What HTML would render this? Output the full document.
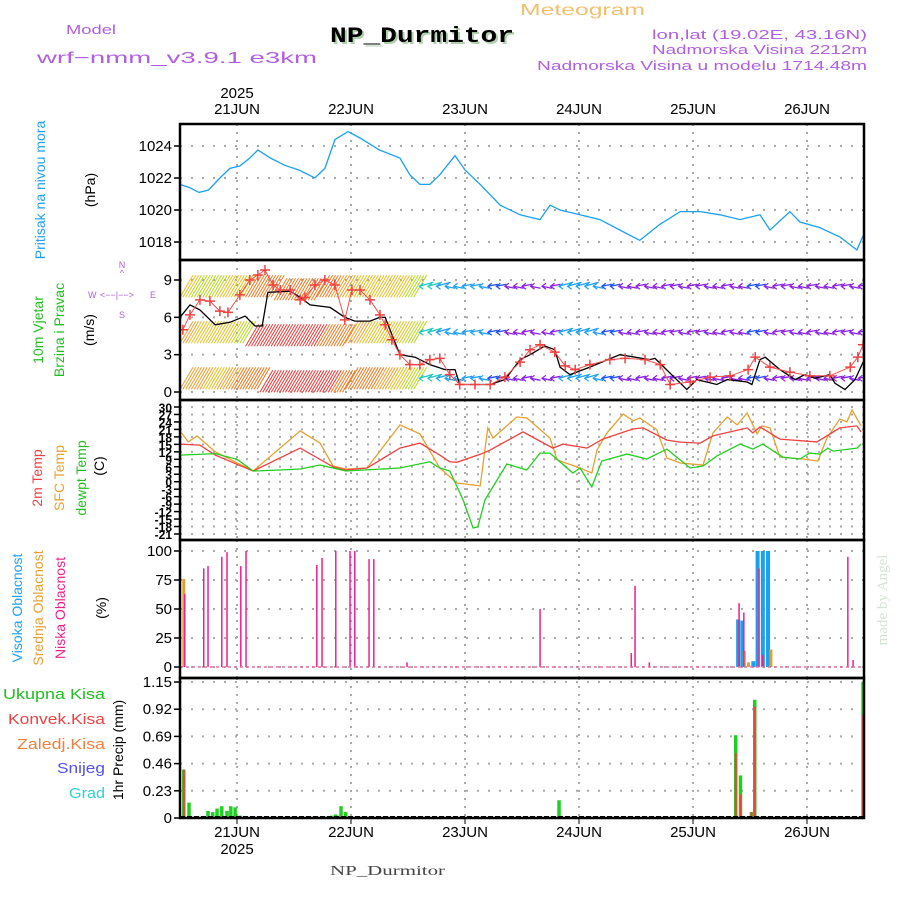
<!DOCTYPE html>
<html><head><meta charset="utf-8">
<style>
html,body{margin:0;padding:0;background:#fff;}
svg{display:block;font-family:"Liberation Sans",sans-serif;}
</style></head>
<body>
<svg id="c" width="900" height="900" viewBox="0 0 900 900">
<g id="hdr">
<text x="520" y="15" font-size="16" fill="#f0c070" textLength="125" lengthAdjust="spacingAndGlyphs">Meteogram</text>
<text x="66" y="34" font-size="13" fill="#b060e0" textLength="50" lengthAdjust="spacingAndGlyphs">Model</text>
<text x="37" y="63" font-size="16" fill="#b060e0" textLength="280" lengthAdjust="spacingAndGlyphs">wrf−nmm_v3.9.1 e3km</text>
<text x="332" y="44" font-size="22" font-weight="bold" fill="#b0d0b0" textLength="184" lengthAdjust="spacingAndGlyphs" font-family="Liberation Mono,monospace">NP_Durmitor</text>
<text x="330" y="42" font-size="22" font-weight="bold" fill="#000" textLength="184" lengthAdjust="spacingAndGlyphs" font-family="Liberation Mono,monospace">NP_Durmitor</text>
<text x="652" y="39" font-size="13" fill="#b060e0" textLength="215" lengthAdjust="spacingAndGlyphs">lon,lat (19.02E, 43.16N)</text>
<text x="652" y="54" font-size="13" fill="#b060e0" textLength="215" lengthAdjust="spacingAndGlyphs">Nadmorska Visina 2212m</text>
<text x="537" y="70" font-size="13" fill="#b060e0" textLength="330" lengthAdjust="spacingAndGlyphs">Nadmorska Visina u modelu 1714.48m</text>
</g>
<g id="grid"></g>
<g id="marks"></g>
<g id="frames"></g>
<g id="labels" font-size="14">
<text transform="translate(45,190) rotate(-90)" fill="#20a0f0" text-anchor="middle">Pritisak na nivou mora</text>
<text transform="translate(95,190) rotate(-90)" fill="#000" text-anchor="middle">(hPa)</text>
<text transform="translate(43,330) rotate(-90)" fill="#20c020" text-anchor="middle">10m Vjetar</text>
<text transform="translate(64,330) rotate(-90)" fill="#20c020" text-anchor="middle">Brzina i Pravac</text>
<text transform="translate(94,330) rotate(-90)" fill="#000" text-anchor="middle">(m/s)</text>
<g fill="#b060e0" font-size="9">
<text x="122" y="268" text-anchor="middle">N</text><text x="122" y="276" text-anchor="middle">^</text>
<text x="88" y="298">W</text><text x="100" y="298">&lt;−−|−−&gt;</text><text x="150" y="298">E</text>
<text x="122" y="318" text-anchor="middle">S</text>
</g>
<text transform="translate(42,478) rotate(-90)" fill="#f04040" text-anchor="middle">2m Temp</text>
<text transform="translate(64,478) rotate(-90)" fill="#e8a030" text-anchor="middle">SFC Temp</text>
<text transform="translate(86,478) rotate(-90)" fill="#20c020" text-anchor="middle">dewpt Temp</text>
<text transform="translate(104,466) rotate(-90)" fill="#000" text-anchor="middle">(C)</text>
<text transform="translate(22,608) rotate(-90)" fill="#20a0f0" text-anchor="middle">Visoka Oblacnost</text>
<text transform="translate(43,608) rotate(-90)" fill="#e8a030" text-anchor="middle">Srednja Oblacnost</text>
<text transform="translate(65,608) rotate(-90)" fill="#f0208a" text-anchor="middle">Niska Oblacnost</text>
<text transform="translate(106,608) rotate(-90)" fill="#000" text-anchor="middle">(%)</text>
<g font-size="15">
<text x="3" y="699" fill="#20c020" textLength="102" lengthAdjust="spacingAndGlyphs">Ukupna Kisa</text>
<text x="8" y="724" fill="#f04040" textLength="97" lengthAdjust="spacingAndGlyphs">Konvek.Kisa</text>
<text x="17" y="749" fill="#f08040" textLength="88" lengthAdjust="spacingAndGlyphs">Zaledj.Kisa</text>
<text x="57" y="773" fill="#5050f0" textLength="48" lengthAdjust="spacingAndGlyphs">Snijeg</text>
<text x="69" y="798" fill="#30d0d0" textLength="36" lengthAdjust="spacingAndGlyphs">Grad</text>
</g>
<text transform="translate(123,750) rotate(-90)" fill="#000" text-anchor="middle">1hr Precip (mm)</text>
<text transform="translate(887,600) rotate(-90)" fill="#d4e4d4" font-size="15" font-family="Liberation Serif,serif" text-anchor="middle">made by Angel</text>
<text x="330" y="875" fill="#444" font-size="14" font-family="Liberation Serif,serif" textLength="115" lengthAdjust="spacingAndGlyphs">NP_Durmitor</text>
</g>
</svg>
<script>
// ---- data ----
const dayLabels = ["21JUN","22JUN","23JUN","24JUN","25JUN","26JUN"];
const dayHours = [12,36,60,84,108,132];
const presTicks = [1018,1020,1022,1024];
const windTicks = [0,3,6,9];
const tempTicks = [30,27,24,21,18,15,12,9,6,3,0,-3,-6,-9,-12,-15,-18,-21];
const cloudTicks = [0,25,50,75,100];
const precipTicks = ["0","0.23","0.46","0.69","0.92","1.15"];

const presHours = [0,2,4,6,8.4,10.5,12.6,14.7,16.4,19,22,25,28.4,30.5,32.6,35.4,37.9,42,46.3,48.4,50.5,52.6,54.7,57.9,60,63.2,67.4,71.6,75.8,77.9,80,84.2,88.4,92.6,96.8,101,105.3,109.5,113.7,117.9,122.1,124.2,128.4,130.5,134.7,139,142.5,143.8];
const presVals = [1021.6,1021.4,1021.1,1021.25,1022,1022.6,1022.75,1023.25,1023.75,1023.25,1022.8,1022.5,1022,1022.6,1024.4,1024.9,1024.5,1023.75,1023.25,1022.2,1021.6,1021.6,1022.2,1023.4,1022.5,1021.6,1020.3,1019.7,1019.4,1020.3,1020,1019.7,1019.4,1018.75,1018.1,1019.1,1019.9,1019.9,1019.7,1019.4,1019.7,1018.75,1019.9,1019.25,1018.9,1018.3,1017.5,1018.4];

const windHours = [0,2.1,4.2,7.4,10.5,13.7,15.8,17.3,18.5,23.2,25.3,27.4,31.6,34.7,36.8,40,42.1,43.2,44.2,46.3,49.5,52.6,55.8,57.9,58.9,62.1,65.3,68.4,71.6,73.7,76.8,78.9,80,82.1,86.3,92.6,98.9,100,106.7,108.8,113,115.2,119.4,120.4,122.1,123.2,126.3,129.5,131.6,133.7,136.8,137.9,140,142.1,143.8];
const windSpeed = [6,7,6.6,5.4,5.6,6.1,5.3,5.3,8,8.1,7.6,7,6.8,6,5.7,5.7,6,6,5,3,2.8,2.2,1.8,1.8,0.6,0.6,0.6,1,2.6,3,3.7,3.4,2,1.4,2,3,2.6,2.7,0.2,1,0.6,1,0.8,0.6,2.6,2.8,1.8,1,1.4,1.1,1.4,0.7,0.2,1,2.4,3.5];
const gustHours = [0.6,2.1,4.2,6.3,8.4,10.1,12.6,14.7,16.4,17.9,19.6,21.1,23.2,25.3,26.3,28.4,30.5,32.6,34.7,36.2,37.9,40,42.1,43.2,44.6,46.3,48.4,50.5,52.6,54.7,56.8,58.9,62.1,65.3,68.4,71.6,73.7,75.8,78.9,81.1,83.2,86.3,90.5,93.7,97.9,101.1,103.2,107.4,111.6,115.8,119.6,121.1,124.2,128.4,132.6,136.8,141.1,142.7,143.8];
const gustSpeed = [5,6.2,7.4,7.3,6.5,6.4,7.8,9,9.4,9.8,8.6,8.2,8.2,7.4,7.6,8.6,9,8.6,5.8,8.2,8.2,7.4,6.2,5.4,4.2,3,2.2,2.2,2.6,2.7,1.4,0.6,0.6,0.6,1.2,2.4,3.4,3.8,3.2,2.1,1.8,2.2,2.6,2.7,2.6,2.2,0.6,0.8,1.2,1.3,1.8,2.8,2,1.6,1.3,1.3,2,2.8,3.8];

const barbSpeedTop = [10,9,9,10,10,12,12,13,13,13,12,11,10,10,10,10,9,7,6,5,5,5,4,3,3,3,3,6,6,5,4,3,3,3,3,3,3,3,3,3,4,3,3,3,3,3,3,3,3];
const barbSpeedMid = [11,10,10,10,9,14,14,14,14,14,13,13,11,10,10,10,9,7,6,5,5,5,4,3,3,3,3,6,6,5,4,3,3,3,3,3,3,3,3,3,4,3,3,3,3,3,3,3,3];
const barbSpeedLow = [11,11,10,11,12,12,14,14,14,14,14,13,12,12,11,10,9,7,6,5,5,5,4,3,3,3,3,6,6,5,4,3,3,3,3,3,3,3,3,3,4,3,3,3,3,3,3,3,3];

const tRedH = [0,4.2,7.4,12,15.4,25.3,32.2,34.9,39.4,46.3,50.5,54.7,56.8,58.3,63.2,65.3,72.2,78.5,80.6,85.7,89,95.4,97.5,102.5,105.3,109.5,112.2,119.4,120.6,122.1,126.3,134.1,138.9,142.5,143.4];
const tRed = [15.1,14.7,10.7,7,4.3,13.5,6,4.7,5.5,13.5,15.5,10.7,8,7.8,11,12.7,20,13.5,15.1,13.5,17.1,21.2,21.6,16.7,15.9,15.5,18.4,21.6,19.6,22,17.1,16,21.6,22.4,20];
const tSfcH = [0,1.7,3.6,7.4,12,15.4,25.3,29.5,32.2,34.9,39.4,46.3,50.5,54.7,58.3,63.2,64.8,65.9,70.9,73,77.9,79.4,84.2,86.7,87.8,89.9,93.3,95.4,96.8,100.4,102.5,105.3,110.1,112.2,115.2,117.3,119.4,121.5,122.5,124.2,126.3,131.2,134.3,136.2,138.9,140.4,141.5,143.4];
const tSfc = [20.4,16,18.4,12,7.6,4.3,20.4,15.5,6.3,5.1,5.5,22.8,19.2,5.5,-0.5,-1.7,21.6,17.5,26,25.6,17.5,8.7,5.5,3.5,12.7,19.6,27.2,24.4,25.6,20.8,9.5,7.5,6.7,19.6,26,22.8,27.6,19.2,22.4,21.6,9.9,9.1,8.3,17.5,25.2,24,28.8,22.4];
const tDewH = [0,7.4,12,15.4,21,25.3,29.5,34.9,46.3,52.6,54.7,56.8,59.6,61.7,62.7,64.2,68.8,73,75.8,77.9,82.7,84.2,86.7,88.8,94.1,98.3,102.5,107.4,110.1,113,117.9,120.6,122.7,126.9,130.5,132.6,134.7,136.4,137.5,142.5,143.4];
const tDew = [10.7,11.3,9,4.3,4.7,5.1,6.7,4.3,5.5,8,5.5,4.3,-7.3,-18.6,-18.2,-7.3,7.1,4.7,11.5,11.5,3.5,5.5,-2.1,8.3,11.1,9.1,13.1,5.5,6.3,10.3,15.1,13.1,15.1,9.9,9.1,11.5,11.1,13.5,12.3,13.5,15.1];

const lowCloudH = [1,5,5.9,8.8,9.9,12.8,13.9,28.8,29.9,32.8,35.8,36.8,39.8,40.8,47.8,75.8,95,95.8,98.8,117.7,118.7,121.9,122.7,140.6,141.7];
const lowCloud = [63,85,87,95,99,87,100,88,94,100,100,100,93,93,4,50,12,70,4,55,47,85,10,95,6];
const midCloudH = [0.8,118.8,119.7,124.4];
const midCloud = [76,14,4,15];
const highCloudH = [117.5,118.4,120.7,121.6,122.7,123.8];
const highCloud = [41,40,5,100,100,100];

const rainH = [0.8,1.9,5.9,6.9,7.8,8.8,9.9,10.7,11.6,12.7,28.8,30.9,32,32.8,33.9,34.9,36,79.8,117,118,119,120.3,121,143.8];
const rainTot = [0.41,0.13,0.06,0.05,0.08,0.1,0.06,0.1,0.09,0.02,0.01,0.01,0.02,0.03,0.1,0.05,0.01,0.15,0.7,0.36,0.01,0.05,1.0,1.15];
const rainConv = [0.41,0,0.01,0,0,0,0,0,0,0,0,0,0,0,0,0,0,0,0.55,0.2,0,0.05,0.94,0.87];

// ---- scales ----
const X0=180, X1=864, HSPAN=144;
const xs = h => X0 + h/HSPAN*(X1-X0);
const lin = (d0,d1,r0,r1) => v => r0 + (v-d0)/(d1-d0)*(r1-r0);
const yP = lin(1018,1024,242,146);
const yW = lin(0,9,392,280);
const yT = lin(-21,30,534,407);
const yC = lin(0,100,667,551);
const yR = lin(0,1.15,818,682);
const panels = [[124,260],[260,400],[400,540],[540,678],[678,818]];

const NS="http://www.w3.org/2000/svg";
function mk(tag, attrs, parent){const e=document.createElementNS(NS,tag);for(const k in attrs)e.setAttribute(k,attrs[k]);parent.appendChild(e);return e;}
const grid=document.getElementById('grid'), marks=document.getElementById('marks'), frames=document.getElementById('frames');

const defs=mk('defs',{},document.getElementById('c'));
panels.forEach((p,i)=>{const cp=mk('clipPath',{id:'cp'+i},defs);mk('rect',{x:X0,y:p[0],width:X1-X0,height:p[1]-p[0]},cp);});

panels.forEach((p,i)=>{
  dayHours.forEach(h=>{
    const l=mk('line',{x1:xs(h),x2:xs(h),y1:p[0],y2:p[1],stroke:'#aaa','stroke-width':2,'stroke-dasharray':'2,6'},grid);
    
    
  });
});
function hgrid(ticks, sc, fs, bold){
  ticks.forEach(t=>{
    const v=parseFloat(t), y=sc(v);
    const l=mk('line',{x1:X0,x2:X1,y1:y,y2:y,stroke:'#aaa','stroke-width':2,'stroke-dasharray':'2,9'},grid);
    
    
    mk('line',{x1:X0-6,x2:X0,y1:y,y2:y,stroke:'#000','stroke-width':1.5},grid);
    const tx=mk('text',{x:X0-8,y:y+5,'font-size':fs,'text-anchor':'end',fill:'#000','font-weight':bold?'bold':'normal'},grid);
    tx.textContent=t;
    
    
  });
}
hgrid(presTicks,yP,15,false);
hgrid(windTicks,yW,15,false);
hgrid(tempTicks,yT,12,true);
hgrid(cloudTicks,yC,15,false);
hgrid(precipTicks,yR,15,false);

dayHours.forEach((h,i)=>{
  const a=mk('text',{x:xs(h),y:114,'font-size':15,'text-anchor':'middle',fill:'#000'},grid);a.textContent=dayLabels[i];
  
  
  mk('line',{x1:xs(h),x2:xs(h),y1:818,y2:824,stroke:'#000'},grid);
  const b=mk('text',{x:xs(h),y:837,'font-size':15,'text-anchor':'middle',fill:'#000'},grid);b.textContent=dayLabels[i];
  
  
});
const y1=mk('text',{x:xs(dayHours[0]),y:98,'font-size':15,'text-anchor':'middle',fill:'#000'},grid);y1.textContent='2025';


const y2=mk('text',{x:xs(dayHours[0]),y:854,'font-size':15,'text-anchor':'middle',fill:'#000'},grid);y2.textContent='2025';



function line(hs,vs,sc,color,name,clip,w){
  const pts=hs.map((h,i)=>xs(h).toFixed(1)+','+sc(vs[i]).toFixed(1)).join(' ');
  const p=mk('polyline',{points:pts,fill:'none',stroke:color,'stroke-width':w||1.3,'clip-path':'url(#cp'+clip+')'},marks);
  
  
  return p;
}
line(presHours,presVals,yP,'#1aa0f0','pressure-line',0);

function speedColor(s){return s>=14?'#f03a3a':s>=12?'#f07a20':s>=11?'#f0a030':s>=10?'#e8c020':s>=9?'#b8d820':s>=7?'#20c8c0':s>=5?'#20a0f0':s>=4?'#2050f0':'#8a20e0';}
function barbs(speeds, baseV, name){
  const g=mk('g',{'clip-path':'url(#cp1)'},marks);
  
  
  for(let h=0;h<=HSPAN;h+=0.6){
    const i=Math.min(speeds.length-1,Math.round(h/3));
    const s=speeds[i], x=xs(h), y=yW(baseV);
    const c=speedColor(s);
    if(s>=9){
      const off=(s>=13?6:0);
      mk('line',{x1:x,y1:y+11+off*0.5,x2:x+13,y2:y-11+off*0.5,stroke:c,'stroke-width':1},g);
    } else if(h%1.8<0.6){
      const len=s>=6?14:10, dy=s>=6?-4:((i%2)?2:-2);
      mk('line',{x1:x,y1:y,x2:x+len,y2:y+dy,stroke:c,'stroke-width':1.3},g);
      mk('polyline',{points:`${x+4},${y-3} ${x},${y} ${x+4},${y+3}`,fill:'none',stroke:c,'stroke-width':1.2},g);
    }
  }
}
barbs(barbSpeedTop,8.5,'wind-barbs-upper');
barbs(barbSpeedMid,4.8,'wind-barbs-middle');
barbs(barbSpeedLow,1.1,'wind-barbs-lower');
line(windHours,windSpeed,yW,'#000','wind-speed-line',1,1.3);
line(gustHours,gustSpeed,yW,'#f05050','wind-gust-line',1,1);
gustHours.forEach((h,i)=>{
  const x=xs(h), y=yW(gustSpeed[i]);
  const p=mk('path',{d:`M${x-5},${y}h10M${x},${y-5}v10`,stroke:'#f04040','stroke-width':1.5,'clip-path':'url(#cp1)'},marks);
  
  
});

line(tSfcH,tSfc,yT,'#e8a030','sfc-temp-line',2);
line(tRedH,tRed,yT,'#f04040','2m-temp-line',2);
line(tDewH,tDew,yT,'#20d020','dewpoint-line',2);

function bars(hs,vs,sc,y0,color,w,name,clip){
  hs.forEach((h,i)=>{
    const y=sc(vs[i]);
    const r=mk('rect',{x:xs(h)-w/2,y:y,width:w,height:Math.max(0,y0-y),fill:color,'clip-path':'url(#cp'+clip+')'},marks);
    
    
  });
}
bars(highCloudH,highCloud,yC,667,'#1aa0f0',4,'high-cloud-bar',3);
bars(midCloudH,midCloud,yC,667,'#e0a030',3,'mid-cloud-bar',3);
bars(lowCloudH,lowCloud,yC,667,'#f0208a',1.5,'low-cloud-bar',3);
mk('line',{x1:X0,x2:X1,y1:667,y2:667,stroke:'#e070a0','stroke-width':1.5,'stroke-dasharray':'3,3'},marks);

bars(rainH,rainTot,yR,818,'#20d020',3.5,'total-rain-bar',4);
bars(rainH,rainConv,yR,818,'#f04040',2,'convective-rain-bar',4);
mk('line',{x1:X0,x2:X1,y1:817,y2:817,stroke:'#000','stroke-width':2,'stroke-dasharray':'5,2'},marks);

panels.forEach(p=>{
  const r=mk('rect',{x:X0,y:p[0],width:X1-X0,height:p[1]-p[0],fill:'none',stroke:'#000','stroke-width':2.5},frames);
  
  
});
</script>
</body></html>
